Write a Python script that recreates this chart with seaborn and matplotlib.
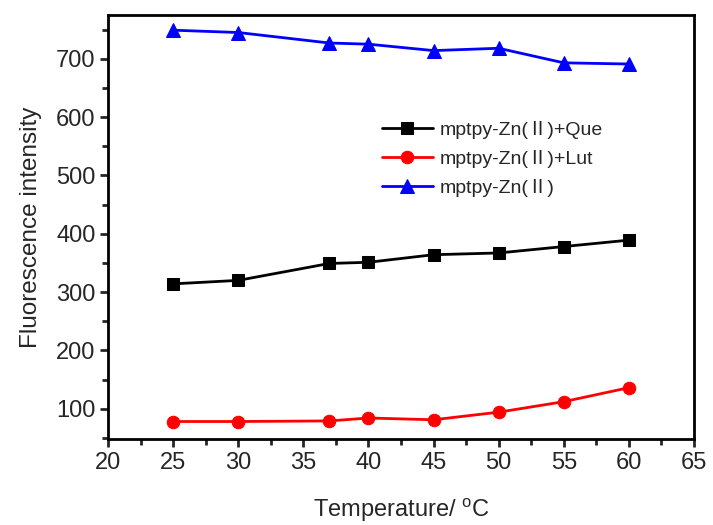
# Fluorescence intensity vs temperature for the mptpy-Zn(II) probe
import pandas as pd
import matplotlib
matplotlib.use('Agg')
import matplotlib.pyplot as plt
from matplotlib.ticker import MultipleLocator
import seaborn as sns

sns.set_style('ticks')
plt.rcParams['font.family'] = ['Liberation Sans', 'Noto Sans CJK SC', 'DejaVu Sans']
plt.rcParams['mathtext.fontset'] = 'custom'
plt.rcParams['mathtext.rm'] = 'Liberation Sans'

# ------------------------------------------------------
# DATA
# ------------------------------------------------------
temperature = [25, 30, 37, 40, 45, 50, 55, 60]
que = [314, 320, 349, 351, 364, 367, 378, 389]
lut = [78, 78, 79, 84, 81, 94, 112, 136]
zn = [749, 745, 727, 725, 714, 718, 693, 691]

labels = ['mptpy-Zn(Ⅱ)+Que', 'mptpy-Zn(Ⅱ)+Lut', 'mptpy-Zn(Ⅱ)']
colors = ['black', '#ff0000', '#0000ff']
markers = ['s', 'o', '^']

# ------------------------------------------------------
# PLOT
# ------------------------------------------------------
fig = plt.figure(figsize=(7.13, 5.25), dpi=100)
ax = fig.add_axes([0.1515, 0.1638, 0.8218, 0.8076])

for vals, lab, c, m in zip([que, lut, zn], labels, colors, markers):
    df = pd.DataFrame({'T': temperature, 'I': vals})
    sns.lineplot(data=df, x='T', y='I', ax=ax, color=c, marker=m,
                 markersize=9 if m != '^' else 10, markeredgecolor=c,
                 linewidth=2, label=lab)

ax.set_xlim(20, 65)
ax.set_ylim(48, 775)
ax.xaxis.set_major_locator(MultipleLocator(5))
ax.xaxis.set_minor_locator(MultipleLocator(2.5))
ax.yaxis.set_major_locator(MultipleLocator(100))
ax.yaxis.set_minor_locator(MultipleLocator(50))
ax.set_yticks([100, 200, 300, 400, 500, 600, 700])

for s in ax.spines.values():
    s.set_linewidth(2)
    s.set_color('black')
ax.tick_params(which='major', direction='out', length=6, width=2, labelsize=17, pad=3)
ax.tick_params(which='minor', direction='out', length=4, width=2)

ax.set_xlabel('Temperature/ $^{\\mathregular{o}}$C', fontsize=17, labelpad=16)
ax.set_ylabel('Fluorescence intensity', fontsize=17.5, labelpad=10)

ax.legend(loc='upper left', bbox_to_anchor=(0.438, 0.792), frameon=False,
          fontsize=14, handlelength=2.6, labelspacing=0.58, handletextpad=0.35)

plt.savefig('out.png', dpi=100)
plt.close('all')
